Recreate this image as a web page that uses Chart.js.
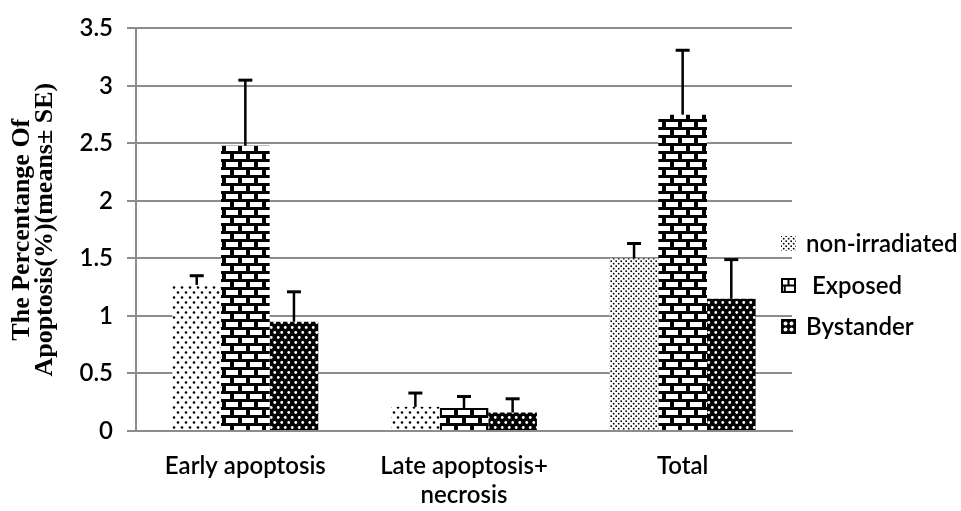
<!DOCTYPE html>
<html>
<head>
<meta charset="utf-8">
<script src="https://cdn.jsdelivr.net/npm/chart.js@4.4.1/dist/chart.umd.min.js"></script>
<style>
  body { margin: 0; background: #fff; }
</style>
</head>
<body>
<canvas id="apoptosis" width="961" height="511"></canvas>
<script>
// values
var categories = ['Early apoptosis', ['Late apoptosis+', 'necrosis'], 'Total'];
var seriesNames = ['non-irradiated', ' Exposed', 'Bystander'];
var nonIrradiated = [1.27, 0.21, 1.50];
var exposed = [2.48, 0.20, 2.75];
var bystander = [0.95, 0.16, 1.15];
// standard errors (upper whisker only)
var nonIrradiatedSE = [0.08, 0.12, 0.13];
var exposedSE = [0.57, 0.10, 0.56];
var bystanderSE = [0.26, 0.12, 0.34];
var yTicks = [0, 0.5, 1, 1.5, 2, 2.5, 3, 3.5];

var tickFont = { family: 'Lato', size: 24, weight: '600' };
var gridGrey = '#8c8c8c';

function makePattern(w, h, bg, draw) {
  var c = document.createElement('canvas');
  c.width = w; c.height = h;
  var g = c.getContext('2d');
  g.fillStyle = bg;
  g.fillRect(0, 0, w, h);
  draw(g);
  return g.createPattern(c, 'repeat');
}

function dots(color, r, pts) {
  return function (g) {
    g.fillStyle = color;
    pts.forEach(function (p) {
      g.beginPath();
      g.arc(p[0], p[1], r, 0, Math.PI * 2);
      g.fill();
    });
  };
}

var sparseDots = makePattern(8, 10, '#fff', dots('#000', 1.3, [[2, 2.5], [6, 7.5]]));
var denseDots = makePattern(5, 5, '#fff', dots('#000', 0.9, [[1.2, 1.2], [3.7, 3.7]]));
var whiteDots = makePattern(7, 10, '#000', dots('#fff', 1.4, [[1.75, 2.5], [5.25, 7.5]]));
var bricks = makePattern(16, 16, '#000', function (g) {
  g.fillStyle = '#fff';
  g.fillRect(2, 2, 12, 5);
  g.fillRect(0, 10, 6, 5);
  g.fillRect(10, 10, 6, 5);
});

var errorBars = {
  id: 'errorBars',
  afterDatasetsDraw: function (chart) {
    var ctx = chart.ctx;
    var y = chart.scales.y;
    chart.data.datasets.forEach(function (ds, i) {
      chart.getDatasetMeta(i).data.forEach(function (bar, j) {
        var top = y.getPixelForValue(ds.data[j] + ds.se[j]);
        ctx.save();
        ctx.strokeStyle = '#000';
        ctx.lineWidth = 2.5;
        ctx.beginPath();
        ctx.moveTo(bar.x, bar.y);
        ctx.lineTo(bar.x, top);
        ctx.stroke();
        ctx.lineWidth = 3;
        ctx.beginPath();
        ctx.moveTo(bar.x - 7, top);
        ctx.lineTo(bar.x + 7, top);
        ctx.stroke();
        ctx.restore();
      });
    });
  }
};

// little legend keys, drawn by hand like the original
function drawKey(ctx, i, x, y, s) {
  ctx.save();
  if (i === 0) {
    ctx.fillStyle = denseDots;
    ctx.fillRect(x, y, s, s);
  } else if (i === 1) {
    ctx.fillStyle = '#fff';
    ctx.fillRect(x, y, s, s);
    ctx.strokeStyle = '#000';
    ctx.lineWidth = 2;
    ctx.strokeRect(x + 1, y + 1, s - 2, s - 2);
    ctx.beginPath();
    ctx.moveTo(x, y + s / 2); ctx.lineTo(x + s, y + s / 2);
    ctx.moveTo(x + s / 2, y); ctx.lineTo(x + s / 2, y + s / 2);
    ctx.moveTo(x + s / 4, y + s / 2); ctx.lineTo(x + s / 4, y + s);
    ctx.stroke();
  } else {
    ctx.fillStyle = '#000';
    ctx.fillRect(x, y, s, s);
    ctx.fillStyle = '#fff';
    [[0.3, 0.3], [0.7, 0.3], [0.3, 0.7], [0.7, 0.7]].forEach(function (p) {
      ctx.beginPath();
      ctx.arc(x + p[0] * s, y + p[1] * s, s * 0.13, 0, Math.PI * 2);
      ctx.fill();
    });
  }
  ctx.restore();
}

var sideLegend = {
  id: 'sideLegend',
  afterDraw: function (chart) {
    var ctx = chart.ctx;
    var rows = [244, 286, 327];
    chart.data.datasets.forEach(function (ds, i) {
      drawKey(ctx, i, 781, rows[i] - 8, 15);
      ctx.save();
      ctx.fillStyle = '#000';
      ctx.font = tickFont.weight + ' ' + tickFont.size + 'px ' + tickFont.family;
      ctx.textBaseline = 'middle';
      ctx.fillText(ds.label, 806, rows[i]);
      ctx.restore();
    });
  }
};

new Chart(document.getElementById('apoptosis'), {
  type: 'bar',
  data: {
    labels: categories,
    datasets: [
      { label: seriesNames[0], data: nonIrradiated, se: nonIrradiatedSE,
        backgroundColor: [sparseDots, sparseDots, denseDots] },
      { label: seriesNames[1], data: exposed, se: exposedSE, backgroundColor: bricks },
      { label: seriesNames[2], data: bystander, se: bystanderSE, backgroundColor: whiteDots }
    ]
  },
  options: {
    responsive: false,
    animation: false,
    events: [],
    layout: { padding: { top: 24, right: 169, left: 0, bottom: 0 } },
    datasets: { bar: { categoryPercentage: 0.667, barPercentage: 1 } },
    plugins: { legend: { display: false }, tooltip: { enabled: false } },
    scales: {
      x: {
        grid: { display: false, drawTicks: false },
        border: { display: true, color: gridGrey, width: 2 },
        ticks: { color: '#000', font: tickFont, padding: 21, maxRotation: 0, autoSkip: false },
        afterFit: function (s) { s.height = 80; }
      },
      y: {
        min: yTicks[0],
        max: yTicks[yTicks.length - 1],
        afterBuildTicks: function (s) {
          s.ticks = yTicks.map(function (v) { return { value: v }; });
        },
        afterFit: function (s) { s.width = 136; },
        grid: { color: gridGrey, lineWidth: 2, tickLength: 9 },
        border: { display: true, color: gridGrey, width: 2 },
        ticks: {
          color: '#000', font: tickFont, padding: 14,
          callback: function (v) { return String(v); }
        },
        title: {
          display: true,
          text: ['The Percentange Of', 'Apoptosis(%)(means\u00b1 SE)'],
          color: '#000',
          font: { family: 'Liberation Serif', size: 26, weight: 'bold', lineHeight: 0.88 },
          padding: { top: 11, bottom: 0 }
        }
      }
    }
  },
  plugins: [errorBars, sideLegend]
});
</script>
</body>
</html>
